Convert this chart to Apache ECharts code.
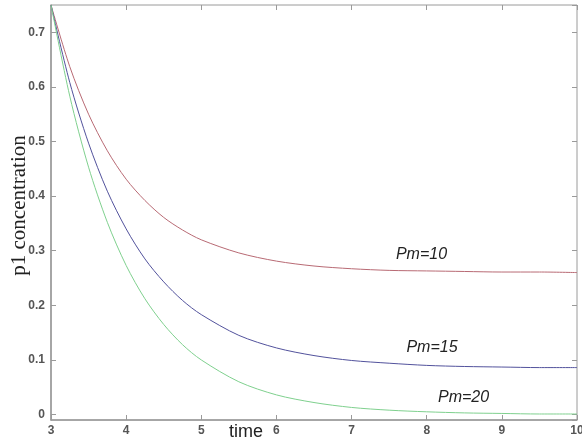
<!DOCTYPE html>
<html lang="en">
<head>
    <meta charset="UTF-8">
    <title>p1 concentration</title>
    <script type="text/javascript" src="https://cdn.jsdelivr.net/npm/echarts@6/dist/echarts.min.js"></script>
    <style>
        html, body { margin: 0; padding: 0; background: #fff; }
    </style>
</head>
<body>
    <div id="chart1" style="width:582px;height:445px;"></div>
<script type="text/javascript">
    // time points
    var times = [3, 3.25, 3.5, 3.75, 4, 4.25, 4.5, 4.75, 5, 5.5, 6, 6.5, 7, 7.5, 8, 8.5, 9, 9.5, 10]
    // p1 concentration
    var pm10 = [0.75, 0.637, 0.550, 0.483, 0.431, 0.392, 0.361, 0.338, 0.320, 0.296, 0.281, 0.272, 0.267, 0.264, 0.263, 0.262, 0.261, 0.261, 0.260]
    var pm15 = [0.75, 0.608, 0.497, 0.409, 0.340, 0.285, 0.243, 0.209, 0.183, 0.145, 0.122, 0.108, 0.099, 0.094, 0.090, 0.088, 0.087, 0.086, 0.086]
    var pm20 = [0.75, 0.583, 0.453, 0.352, 0.273, 0.212, 0.165, 0.128, 0.100, 0.060, 0.036, 0.022, 0.013, 0.008, 0.005, 0.003, 0.002, 0.001, 0.001]
    var yTicks = [0, 0.1, 0.2, 0.3, 0.4, 0.5, 0.6, 0.7]

    function pairs(ys) {
        return times.map(function (t, i) { return [t, ys[i]] })
    }

    var chart = echarts.init(document.getElementById("chart1"))

    var axisColor = '#9a9a9a'
    var labelStyle = { color: '#555', fontFamily: 'Liberation Sans', fontSize: 12, fontWeight: 'bold' }

    function curve(name, ys, color, labelCoord) {
        return {
            name: name,
            type: 'line',
            data: pairs(ys),
            smooth: 0.3,
            showSymbol: false,
            lineStyle: { color: color, width: 1 },
            markPoint: {
                symbolSize: 0,
                data: [{ coord: labelCoord, value: name }],
                label: {
                    show: true,
                    formatter: name,
                    color: '#222',
                    fontFamily: 'Liberation Sans',
                    fontStyle: 'italic',
                    fontSize: 16
                }
            }
        }
    }

    // only 0, 0.1 ... 0.7 get a label
    function yLabel(v) {
        var r = Math.round(v * 10) / 10
        return (Math.abs(v - r) < 1e-6 && yTicks.indexOf(r) >= 0) ? String(r) : ''
    }

    var option = {
        animation: false,
        grid: {
            left: 51, right: 5, top: 5, bottom: 25,
            outerBoundsMode: 'none', containLabel: false,
            show: true, borderColor: axisColor, borderWidth: 1
        },
        xAxis: [{
            type: 'value', min: 3, max: 10, interval: 1,
            name: 'time', nameLocation: 'middle', nameGap: 3, nameMoveOverlap: false,
            nameTextStyle: { color: '#222', fontFamily: 'Liberation Sans', fontSize: 18, padding: [0, 136, 0, 0] },
            axisLine: { onZero: false, lineStyle: { color: axisColor, width: 1.5 } },
            axisTick: { inside: true, length: 5, lineStyle: { color: axisColor } },
            axisLabel: Object.assign({ margin: 5 }, labelStyle),
            splitLine: { show: false }
        }, {
            type: 'value', min: 3, max: 10, interval: 1, position: 'top',
            axisLine: { show: false, onZero: false },
            axisTick: { inside: true, length: 5, lineStyle: { color: axisColor } },
            axisLabel: { show: false },
            splitLine: { show: false }
        }],
        yAxis: [{
            type: 'value', min: -0.01, max: 0.75, splitNumber: 8,
            name: 'p1 concentration', nameLocation: 'middle', nameGap: 21, nameMoveOverlap: false,
            nameTextStyle: { color: '#222', fontFamily: 'Liberation Serif', fontSize: 21, padding: [0, 0, 0, 14] },
            axisLine: { show: true, onZero: false, lineStyle: { color: axisColor, width: 1.5 } },
            axisTick: { inside: true, length: 5, lineStyle: { color: axisColor } },
            axisLabel: Object.assign({
                margin: 6, showMinLabel: false, showMaxLabel: false, formatter: yLabel
            }, labelStyle),
            splitLine: { show: false }
        }, {
            type: 'value', min: -0.01, max: 0.75, splitNumber: 8, position: 'right',
            axisLine: { show: false, onZero: false },
            axisTick: { inside: true, length: 5, lineStyle: { color: axisColor } },
            axisLabel: { show: false },
            splitLine: { show: false }
        }],
        series: [
            curve('Pm=10', pm10, '#b86a74', [7.93, 0.293]),
            curve('Pm=15', pm15, '#52529c', [8.07, 0.122]),
            curve('Pm=20', pm20, '#7fd08e', [8.49, 0.031])
        ]
    }
    chart.setOption(option)
</script>
</body>
</html>
